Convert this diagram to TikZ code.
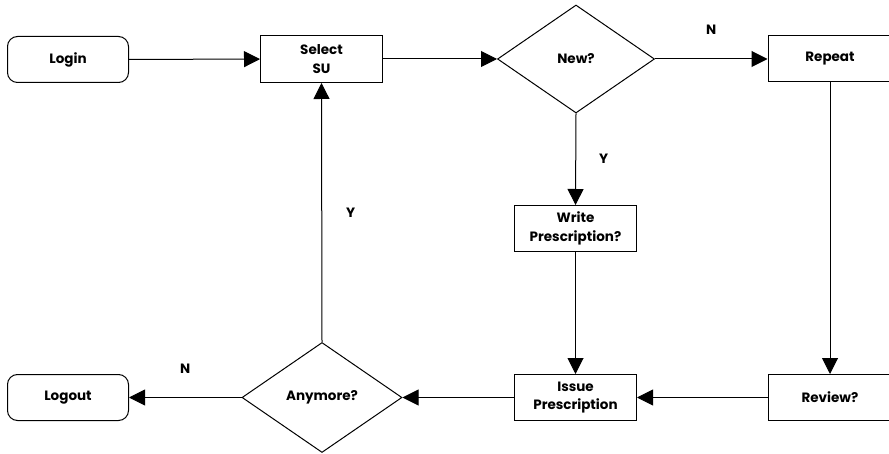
\documentclass[tikz,border=0pt]{standalone}
\usepackage{fontspec}
\setmainfont{Poppins}
\usetikzlibrary{arrows.meta,shapes.geometric}
\begin{document}
\begin{tikzpicture}[x=1pt,y=-1pt,
  font=\fontsize{13.5}{18.5}\selectfont\bfseries,
  box/.style={draw,line width=1pt,align=center,inner sep=0pt,minimum width=122,minimum height=47},
  term/.style={box,rounded corners=10pt,minimum width=121,minimum height=46},
  dec/.style={draw,line width=1pt,diamond,inner sep=0pt,align=center},
  conn/.style={line width=1pt,-{Triangle[length=16pt,width=16pt]}},
  lbl/.style={inner sep=0pt}]
\useasboundingbox (0,0) rectangle (889,454);
\node[term] (login) at (68,59.5) {Login};
\node[box] (select) at (321.5,59) {Select\\SU};
\node[dec,minimum width=157,minimum height=108] (new) at (576,59) {New?};
\node[box,minimum width=124,minimum height=46] (repeat) at (830,59) {Repeat};
\node[box,minimum width=122,minimum height=46] (write) at (575.5,228.5) {Write\\Prescription?};
\node[box,minimum width=122,minimum height=46] (issue) at (575.5,397.5) {Issue\\Prescription};
\node[box,minimum width=124,minimum height=46] (review) at (830,397.5) {Review?};
\node[dec,minimum width=160,minimum height=110] (any) at (322,397.5) {Anymore?};
\node[term] (logout) at (68,397.5) {Logout};
\draw[conn] (login) -- (select);
\draw[conn] (select) -- (new);
\draw[conn] (new) -- node[lbl,pos=0.5,yshift=29] (ln) {N} (repeat);
\draw[conn] (new.south) -- node[lbl,pos=0.5,xshift=28] (ly1) {Y} (write.north);
\draw[conn] (write) -- (issue);
\draw[conn] (repeat) -- (review);
\draw[conn] (review) -- (issue);
\draw[conn] (issue) -- (any);
\draw[conn] (any) -- node[lbl,pos=0.5,yshift=29] (ln2) {N} (logout);
\draw[conn] (any.north) -- node[lbl,pos=0.5,xshift=29] (ly2) {Y} (select.south);
\end{tikzpicture}
\end{document}
